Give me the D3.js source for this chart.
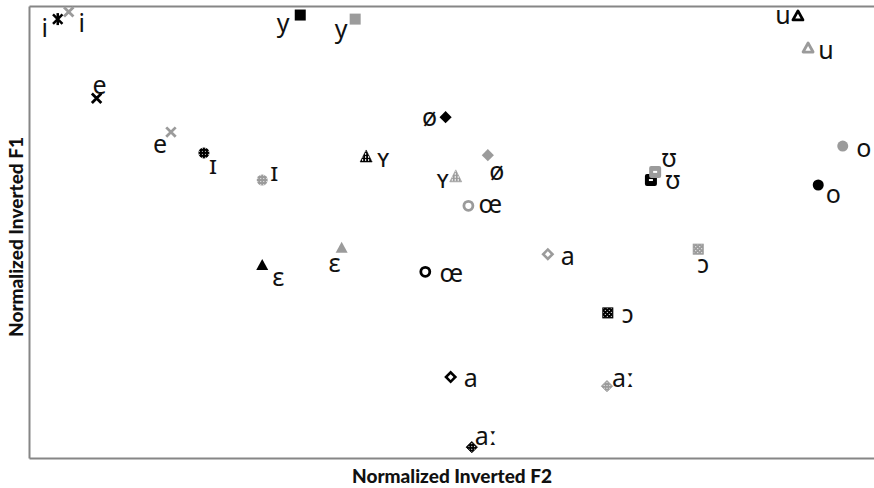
<!DOCTYPE html>
<html>
<head>
<meta charset="utf-8">
<script src="https://cdn.jsdelivr.net/npm/d3@7"></script>
<style>
  body { margin: 0; background: #fff; }
  .axisTitle { font-family: Lato, "Liberation Sans", sans-serif; font-weight: 900; font-size: 19px; fill: #111; }
  .vowel { font-family: "Noto Sans", "DejaVu Sans", sans-serif; font-size: 25px; fill: #111; }
</style>
</head>
<body>
<div class="chart"></div>
<script>
var svgWidth = 874;
var svgHeight = 488;

var margin = { top: 6, right: 0, bottom: 30, left: 29 };
var width = svgWidth - margin.left - margin.right;
var height = svgHeight - margin.top - margin.bottom;

// vowel categories and marker shape per vowel
var vowels = ["i", "e", "ɪ", "y", "ø", "ʏ", "œ", "ɛ", "a", "ɔ", "aː", "ʊ", "u", "o"];
var shapesBlack = ["star", "x", "dotcircle", "square", "diamond", "stripetri", "opencircle", "triangle", "opendiamond", "checksquare", "checkdiamond", "holesquare", "opentriangle", "circle"];
var shapesGray  = ["x", "x", "dotcircle", "square", "diamond", "stripetri", "opencircle", "triangle", "opendiamond", "checksquare", "checkdiamond", "holesquare", "opentriangle", "circle"];

// normalized inverted F2 / F1, black speaker
var blackF2 = [0.034, 0.080, 0.207, 0.321, 0.493, 0.399, 0.469, 0.276, 0.499, 0.685, 0.524, 0.736, 0.910, 0.934];
var blackF1 = [0.971, 0.796, 0.675, 0.980, 0.754, 0.666, 0.412, 0.427, 0.179, 0.321, 0.024, 0.615, 0.978, 0.604];
// gray speaker
var grayF2 = [0.047, 0.168, 0.276, 0.386, 0.543, 0.505, 0.520, 0.370, 0.614, 0.792, 0.684, 0.741, 0.922, 0.963];
var grayF1 = [0.987, 0.721, 0.615, 0.971, 0.670, 0.622, 0.558, 0.465, 0.451, 0.462, 0.159, 0.633, 0.907, 0.690];

// label offsets from marker (px), text baseline
var labelOffBlack = [[-13, 18], [3, -4], [9, 21], [-17, 17], [-16, 9], [17, 10], [26, 10], [16, 21], [20, 10], [20, 10], [14, -2], [22, 9], [-15, 8], [15, 18]];
var labelOffGray  = [[13, 20], [-11, 21], [12, 1], [-14, 19], [9, 25], [-13, 11], [22, 7], [-7, 24], [20, 11], [5, 24], [16, 1], [14, -5], [18, 11], [21, 11]];

var BLACK = "#000000";
var GRAY = "#9b9b9b";

var svg = d3.select(".chart")
  .append("svg")
  .attr("width", svgWidth)
  .attr("height", svgHeight);

// patterns for textured markers
var defs = svg.append("defs");
[["k", BLACK], ["g", GRAY]].forEach(function(p) {
  var id = p[0], col = p[1];
  // dotted
  var dp = defs.append("pattern").attr("id", "dots-" + id).attr("patternUnits", "userSpaceOnUse")
    .attr("width", 3).attr("height", 3);
  dp.append("rect").attr("width", 3).attr("height", 3).attr("fill", col);
  dp.append("rect").attr("x", 1).attr("y", 1).attr("width", 1).attr("height", 1).attr("fill", "#fff").attr("opacity", 0.8);
  // vertical stripes
  var sp = defs.append("pattern").attr("id", "stripes-" + id).attr("patternUnits", "userSpaceOnUse")
    .attr("width", 3).attr("height", 3);
  sp.append("rect").attr("width", 3).attr("height", 3).attr("fill", "#fff");
  sp.append("rect").attr("width", 2).attr("height", 3).attr("fill", col);
  sp.append("rect").attr("x", 2).attr("y", 1).attr("width", 1).attr("height", 1).attr("fill", col);
  // checker
  var cp = defs.append("pattern").attr("id", "check-" + id).attr("patternUnits", "userSpaceOnUse")
    .attr("width", 4).attr("height", 4);
  cp.append("rect").attr("width", 4).attr("height", 4).attr("fill", col);
  cp.append("rect").attr("x", 1).attr("y", 1).attr("width", 1).attr("height", 1).attr("fill", "#fff");
  cp.append("rect").attr("x", 3).attr("y", 3).attr("width", 1).attr("height", 1).attr("fill", "#fff");
});

var chartGroup = svg.append("g")
  .attr("transform", `translate(${margin.left}, ${margin.top})`);

var xScale = d3.scaleLinear().domain([0, 1]).range([0, width]);
var yScale = d3.scaleLinear().domain([0, 1]).range([height, 0]);

// axes: just the lines, no ticks
function styleAxis(g) {
  g.selectAll(".tick").remove();
  g.select(".domain").attr("stroke", "#868686").attr("stroke-width", 2);
}
chartGroup.append("g").attr("transform", `translate(0, ${height})`)
  .call(d3.axisBottom(xScale).ticks(0).tickSizeOuter(0)).call(styleAxis);
chartGroup.append("g")
  .call(d3.axisTop(xScale).ticks(0).tickSizeOuter(0)).call(styleAxis);
chartGroup.append("g")
  .call(d3.axisLeft(yScale).ticks(0).tickSizeOuter(0)).call(styleAxis);

function drawMarker(g, shape, col, pid) {
  var sym = d3.symbol();
  if (shape == "star") {
    g.append("path").attr("d", sym.type(d3.symbolTimes).size(60)()).attr("stroke", col).attr("stroke-width", 2.5).attr("fill", "none");
    g.append("line").attr("x1", 0).attr("x2", 0).attr("y1", -6).attr("y2", 6).attr("stroke", col).attr("stroke-width", 2.5);
  } else if (shape == "x") {
    g.append("path").attr("d", sym.type(d3.symbolTimes).size(60)()).attr("stroke", col).attr("stroke-width", 2.8).attr("fill", "none");
  } else if (shape == "dotcircle") {
    g.append("circle").attr("r", 5.5).attr("fill", "url(#dots-" + pid + ")");
  } else if (shape == "square") {
    g.append("rect").attr("x", -5.5).attr("y", -5.5).attr("width", 11).attr("height", 11).attr("fill", col);
  } else if (shape == "diamond") {
    g.append("rect").attr("x", -4.3).attr("y", -4.3).attr("width", 8.6).attr("height", 8.6).attr("fill", col).attr("transform", "rotate(45)");
  } else if (shape == "stripetri") {
    g.append("path").attr("d", "M0,-7L6,5L-6,5Z").attr("fill", "url(#stripes-" + pid + ")").attr("stroke", col).attr("stroke-width", 0.6);
  } else if (shape == "opencircle") {
    g.append("circle").attr("r", 4.5).attr("fill", "#fff").attr("stroke", col).attr("stroke-width", 2.8);
  } else if (shape == "triangle") {
    g.append("path").attr("d", "M0,-6L6,5L-6,5Z").attr("fill", col);
  } else if (shape == "opendiamond") {
    g.append("rect").attr("x", -3.3).attr("y", -3.3).attr("width", 6.6).attr("height", 6.6).attr("fill", "#fff").attr("stroke", col).attr("stroke-width", 2.6).attr("transform", "rotate(45)");
  } else if (shape == "checksquare") {
    g.append("rect").attr("x", -5).attr("y", -5).attr("width", 10).attr("height", 10).attr("fill", "url(#check-" + pid + ")").attr("stroke", col).attr("stroke-width", 1);
  } else if (shape == "checkdiamond") {
    g.append("rect").attr("x", -4).attr("y", -4).attr("width", 8).attr("height", 8).attr("fill", "url(#check-" + pid + ")").attr("stroke", col).attr("stroke-width", 0.8).attr("transform", "rotate(45)");
  } else if (shape == "holesquare") {
    g.append("rect").attr("x", -6).attr("y", -6).attr("width", 12).attr("height", 12).attr("fill", col).attr("rx", 2);
    g.append("rect").attr("x", -2).attr("y", -1).attr("width", 4).attr("height", 2).attr("fill", "#fff");
  } else if (shape == "opentriangle") {
    g.append("path").attr("d", "M0,-5L5,4L-5,4Z").attr("fill", "#fff").attr("stroke", col).attr("stroke-width", 2.8).attr("stroke-linejoin", "round");
  } else if (shape == "circle") {
    g.append("circle").attr("r", 5.5).attr("fill", col);
  }
}

function plotSeries(f2, f1, shapes, offs, col, pid) {
  var rows = vowels.map(function(v, i) {
    return { vowel: v, x: f2[i], y: f1[i], shape: shapes[i], off: offs[i] };
  });
  var pts = chartGroup.selectAll("g.pt-" + pid)
    .data(rows)
    .enter()
    .append("g")
    .attr("class", "pt-" + pid)
    .attr("transform", d => `translate(${xScale(d.x)}, ${yScale(d.y)})`);
  pts.each(function(d) { drawMarker(d3.select(this), d.shape, col, pid); });
  pts.append("text")
    .attr("class", "vowel")
    .attr("text-anchor", "middle")
    .attr("x", d => d.off[0])
    .attr("y", d => d.off[1])
    .text(d => d.vowel);
}

plotSeries(blackF2, blackF1, shapesBlack, labelOffBlack, BLACK, "k");
plotSeries(grayF2, grayF1, shapesGray, labelOffGray, GRAY, "g");

// axis titles
svg.append("text")
  .attr("class", "axisTitle")
  .attr("text-anchor", "middle")
  .attr("x", 452)
  .attr("y", 483)
  .text("Normalized Inverted F2");

svg.append("text")
  .attr("class", "axisTitle")
  .attr("text-anchor", "middle")
  .attr("transform", "translate(23, 237) rotate(-90)")
  .text("Normalized Inverted F1");
</script>
</body>
</html>
